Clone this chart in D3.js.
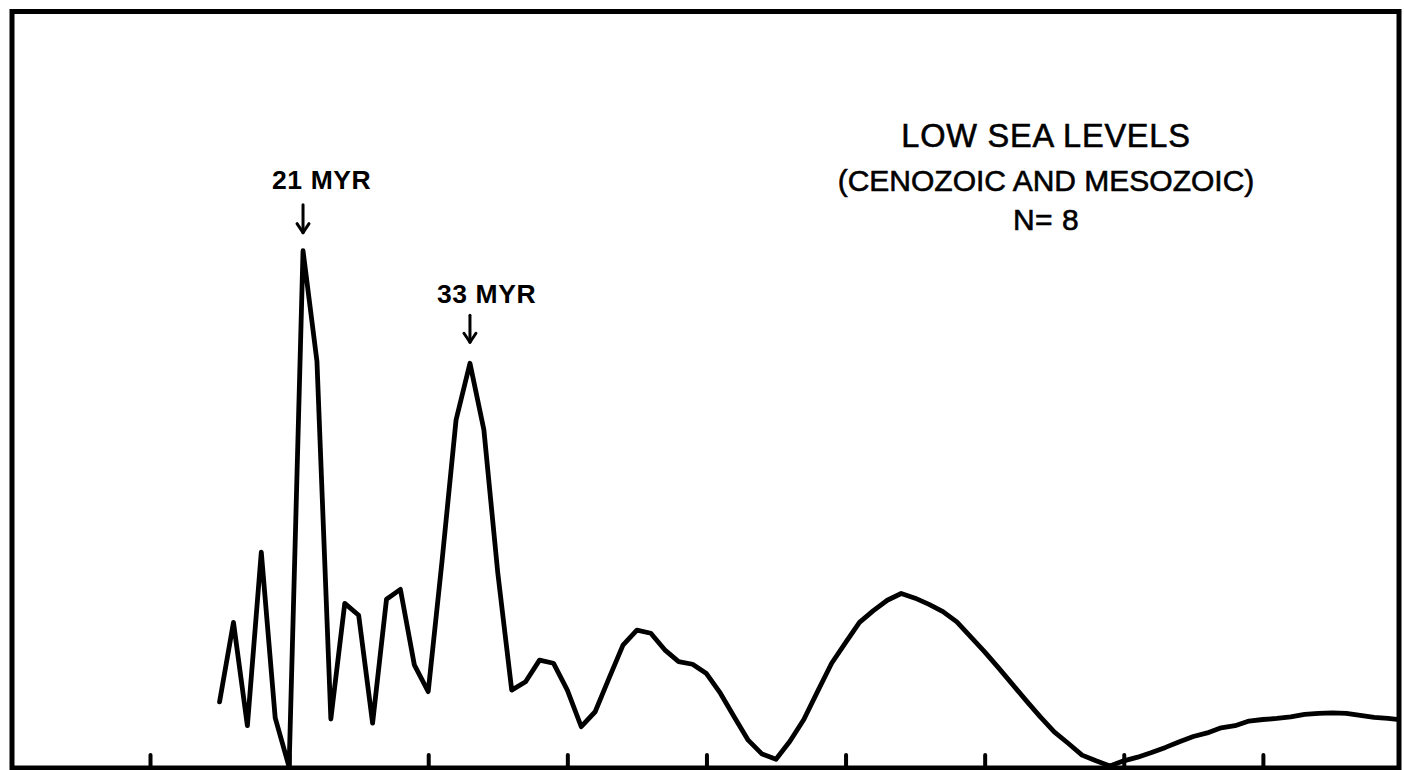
<!DOCTYPE html>
<html>
<head>
<meta charset="utf-8">
<script src="https://cdn.jsdelivr.net/npm/d3@7"></script>
<style>
  html, body { margin: 0; padding: 0; background: #fff; }
  svg { display: block; }
</style>
</head>
<body>
<svg id="chart" width="1404" height="770"></svg>
<script>
// Spectral power of low sea-level events vs. period (Myr), relative to the 21 Myr peak
const periods = [
  15, 16, 17, 18, 19, 20, 21, 22, 23, 24, 25, 26, 27, 28, 29, 30,
  31, 32, 33, 34, 35, 36, 37, 38, 39, 40, 41, 42, 43, 44, 45, 46,
  47, 48, 49, 50, 51, 52, 53, 54, 55, 56, 57, 58, 59, 60, 61, 62,
  63, 64, 65, 66, 67, 68, 69, 70, 71, 72, 73, 74, 75, 76, 77, 78,
  79, 80, 81, 82, 83, 84, 85, 86, 87, 88, 89, 90, 91, 92, 93, 94,
  95, 96, 97, 98, 99, 100
];
const power = [
  0.126, 0.280, 0.080, 0.416, 0.095, 0.000, 1.000, 0.786, 0.093, 0.317, 0.294, 0.085, 0.325, 0.344, 0.198, 0.146,
  0.401, 0.672, 0.782, 0.653, 0.376, 0.149, 0.165, 0.207, 0.201, 0.149, 0.078, 0.107, 0.172, 0.236, 0.265, 0.259,
  0.227, 0.204, 0.199, 0.181, 0.143, 0.097, 0.052, 0.025, 0.015, 0.050, 0.092, 0.147, 0.201, 0.241, 0.280, 0.303,
  0.323, 0.336, 0.327, 0.315, 0.301, 0.281, 0.252, 0.223, 0.192, 0.160, 0.128, 0.097, 0.068, 0.046, 0.023, 0.012,
  0.002, 0.012, 0.019, 0.028, 0.038, 0.049, 0.059, 0.066, 0.076, 0.080, 0.089, 0.092, 0.094, 0.097, 0.102, 0.104,
  0.105, 0.104, 0.100, 0.096, 0.094, 0.091
];
const tickValues = [10, 20, 30, 40, 50, 60, 70, 80, 90];
const peakLabels = ["21 MYR", "33 MYR"];
const peakPeriods = [21, 33];
const titleLines = ["LOW SEA LEVELS", "(CENOZOIC AND MESOZOIC)", "N= 8"];

const svg = d3.select("#chart");
const frame = { left: 12, top: 11.5, right: 1399, bottom: 768 };

const x = d3.scaleLinear().domain([0, 100]).range([10.9, 1402]);
const y = d3.scaleLinear().domain([0, 1]).range([767, 250.7]);

svg.append("defs").append("clipPath").attr("id", "plotClip")
  .append("rect")
  .attr("x", frame.left).attr("y", frame.top)
  .attr("width", frame.right - frame.left).attr("height", frame.bottom - frame.top);

// Inward ticks along the bottom edge, no labels
const axis = d3.axisBottom(x).tickValues(tickValues).tickSize(-13).tickFormat("");
const gAxis = svg.append("g").attr("transform", `translate(0,${frame.bottom})`).call(axis);
gAxis.select(".domain").remove();
gAxis.selectAll(".tick line")
  .attr("stroke", "#000").attr("stroke-width", 4).attr("stroke-linecap", "round");

// Spectrum curve
const pts = periods.map((p, i) => [p, power[i]]);
const line = d3.line().x(d => x(d[0])).y(d => y(d[1]));
svg.append("path")
  .datum(pts)
  .attr("clip-path", "url(#plotClip)")
  .attr("d", line)
  .attr("fill", "none")
  .attr("stroke", "#000")
  .attr("stroke-width", 4.8)
  .attr("stroke-linejoin", "round")
  .attr("stroke-linecap", "round");

// Frame
svg.append("rect")
  .attr("x", frame.left).attr("y", frame.top)
  .attr("width", frame.right - frame.left).attr("height", frame.bottom - frame.top)
  .attr("fill", "none").attr("stroke", "#000").attr("stroke-width", 5);

// Peak annotations with downward arrows
const annOffsets = [
  { textDx: -31, textDy: -62, tipDy: -18, len: 28 },
  { textDx: -33, textDy: -60, tipDy: -21, len: 27 }
];
peakPeriods.forEach((p, i) => {
  const v = power[periods.indexOf(p)];
  const px = x(p), py = y(v);
  const o = annOffsets[i];
  const tip = py + o.tipDy;
  const g = svg.append("g").attr("stroke", "#000").attr("stroke-width", 3)
    .attr("fill", "none").attr("stroke-linecap", "round").attr("stroke-linejoin", "round");
  g.append("line").attr("x1", px).attr("x2", px).attr("y1", tip - o.len).attr("y2", tip);
  g.append("path").attr("d", `M${px - 6},${tip - 9} L${px},${tip} L${px + 6},${tip - 9}`);
  svg.append("text")
    .attr("x", px + o.textDx)
    .attr("y", py + o.textDy)
    .attr("font-family", "'Liberation Sans', Arial, sans-serif")
    .attr("font-weight", "bold")
    .attr("font-size", 26.5)
    .attr("letter-spacing", 0.6)
    .attr("fill", "#000")
    .text(peakLabels[i]);
});

// Title block
const titleX = 1046;
const titleY = [147, 191, 230];
const titleSize = [32.5, 30, 30];
const titleSpacing = [0.8, 0, 0.5];
titleLines.forEach((t, i) => {
  svg.append("text")
    .attr("x", titleX)
    .attr("y", titleY[i])
    .attr("text-anchor", "middle")
    .attr("font-family", "'Liberation Sans', Arial, sans-serif")
    .attr("font-size", titleSize[i])
    .attr("letter-spacing", titleSpacing[i])
    .attr("fill", "#000")
    .attr("stroke", "#000")
    .attr("stroke-width", 0.6)
    .text(t);
});
</script>
</body>
</html>
